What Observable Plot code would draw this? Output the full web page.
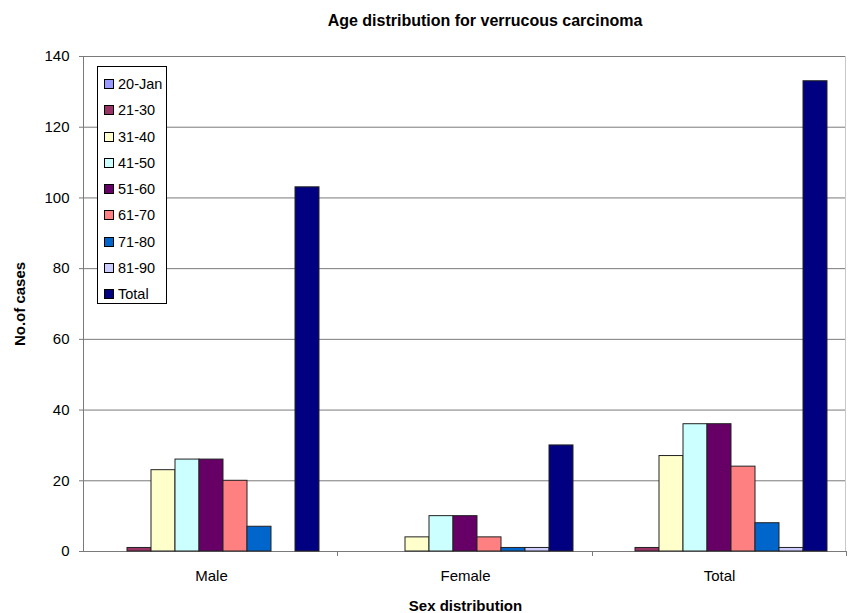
<!DOCTYPE html>
<html><head><meta charset="utf-8">
<script src="https://cdn.jsdelivr.net/npm/d3@7"></script>
<script src="https://cdn.jsdelivr.net/npm/@observablehq/plot@0.6"></script>
<style>
body{margin:0;background:#fff;font-family:"Liberation Sans",Arial,sans-serif;}
#wrap{position:relative;width:848px;height:613px;overflow:hidden;}
#title{position:absolute;top:12px;left:320px;width:330px;text-align:center;font-weight:bold;font-size:16px;color:#000;}
#chart{position:absolute;top:45px;left:0;}
#legend{position:absolute;left:97px;top:66px;width:70px;height:238px;border:1px solid #000;background:#fff;box-sizing:border-box;padding-top:4px;}
.item{height:26.25px;display:flex;align-items:center;font-size:14.5px;color:#000;}
.sw{width:8px;height:8px;border:1px solid #000;margin-left:6px;margin-right:4px;flex:none;}
svg g[aria-label="y-axis label"] text, svg g[aria-label="fx-axis label"] text{font-weight:bold;}
</style>
</head><body>
<div id="wrap">
<div id="title">Age distribution for verrucous carcinoma</div>
<div id="chart"></div>
<div id="legend"></div>
</div>
<script>
const groups = ["Male", "Female", "Total"];
const ages = ["20-Jan", "21-30", "31-40", "41-50", "51-60", "61-70", "71-80", "81-90", "Total"];
const colors = ["#9999FF", "#993366", "#FFFFCC", "#CCFFFF", "#660066", "#FF8080", "#0066CC", "#CCCCFF", "#000080"];
const male = [0, 1, 23, 26, 26, 20, 7, 0, 103];
const female = [0, 0, 4, 10, 10, 4, 1, 1, 30];
const total = [0, 1, 27, 36, 36, 24, 8, 1, 133];
const yTicks = [0, 20, 40, 60, 80, 100, 120, 140];

const series = {Male: male, Female: female, Total: total};
const rows = [];
for (const g of groups) ages.forEach((a, i) => rows.push({group: g, age: a, value: series[g][i]}));

const W = 848, H = 568, mL = 83, mR = 2, mT = 11, mB = 62;
const plot = Plot.plot({
  width: W, height: H,
  marginLeft: mL, marginRight: mR, marginTop: mT, marginBottom: mB,
  style: {fontFamily: "'Liberation Sans', Arial, sans-serif", fontSize: "15px", color: "#000", background: "#fff"},
  fx: {domain: groups, padding: 0, label: "Sex distribution", tickSize: 0, tickPadding: 19, labelAnchor: "center"},
  x: {domain: ages, paddingInner: 0, paddingOuter: 0.77, axis: null},
  y: {domain: [0, 140], ticks: yTicks, label: "No.of cases", labelAnchor: "center", labelArrow: "none", labelOffset: 70, tickSize: 5, tickPadding: 10},
  color: {domain: ages, range: colors},
  marks: [
    Plot.gridY(yTicks, {stroke: "#7a7a7a", strokeOpacity: 1}),
    Plot.ruleY([0], {stroke: "#7a7a7a"}),
    Plot.barY(rows.filter(d => d.value > 0), {fx: "group", x: "age", y: "value", fill: "age", stroke: "#222", strokeWidth: 1})
  ]
});
document.getElementById("chart").appendChild(plot);

// plot-area frame, left axis line and category boundary ticks
const svg = d3.select(plot);
const x0 = mL, x1 = W - mR, y0 = mT, y1 = H - mB;
svg.append("line").attr("x1", x1 - 0.5).attr("x2", x1 - 0.5).attr("y1", y0).attr("y2", y1).attr("stroke", "#c8c8c8");
svg.append("line").attr("x1", x0 + 0.5).attr("x2", x0 + 0.5).attr("y1", y0).attr("y2", y1).attr("stroke", "#7a7a7a");
const step = (x1 - x0) / groups.length;
for (let i = 1; i <= groups.length; i++) {
  const xx = Math.round(x0 + i * step) + 0.5;
  svg.append("line").attr("x1", xx).attr("x2", xx).attr("y1", y1).attr("y2", y1 + 5).attr("stroke", "#7a7a7a");
}
svg.selectAll('g[aria-label="y-axis tick"] path').attr("stroke", "#7a7a7a");

// legend
const lg = document.getElementById("legend");
ages.forEach((a, i) => {
  const it = document.createElement("div");
  it.className = "item";
  it.innerHTML = `<span class="sw" style="background:${colors[i]}"></span><span>${a}</span>`;
  lg.appendChild(it);
});
</script>
</body></html>
